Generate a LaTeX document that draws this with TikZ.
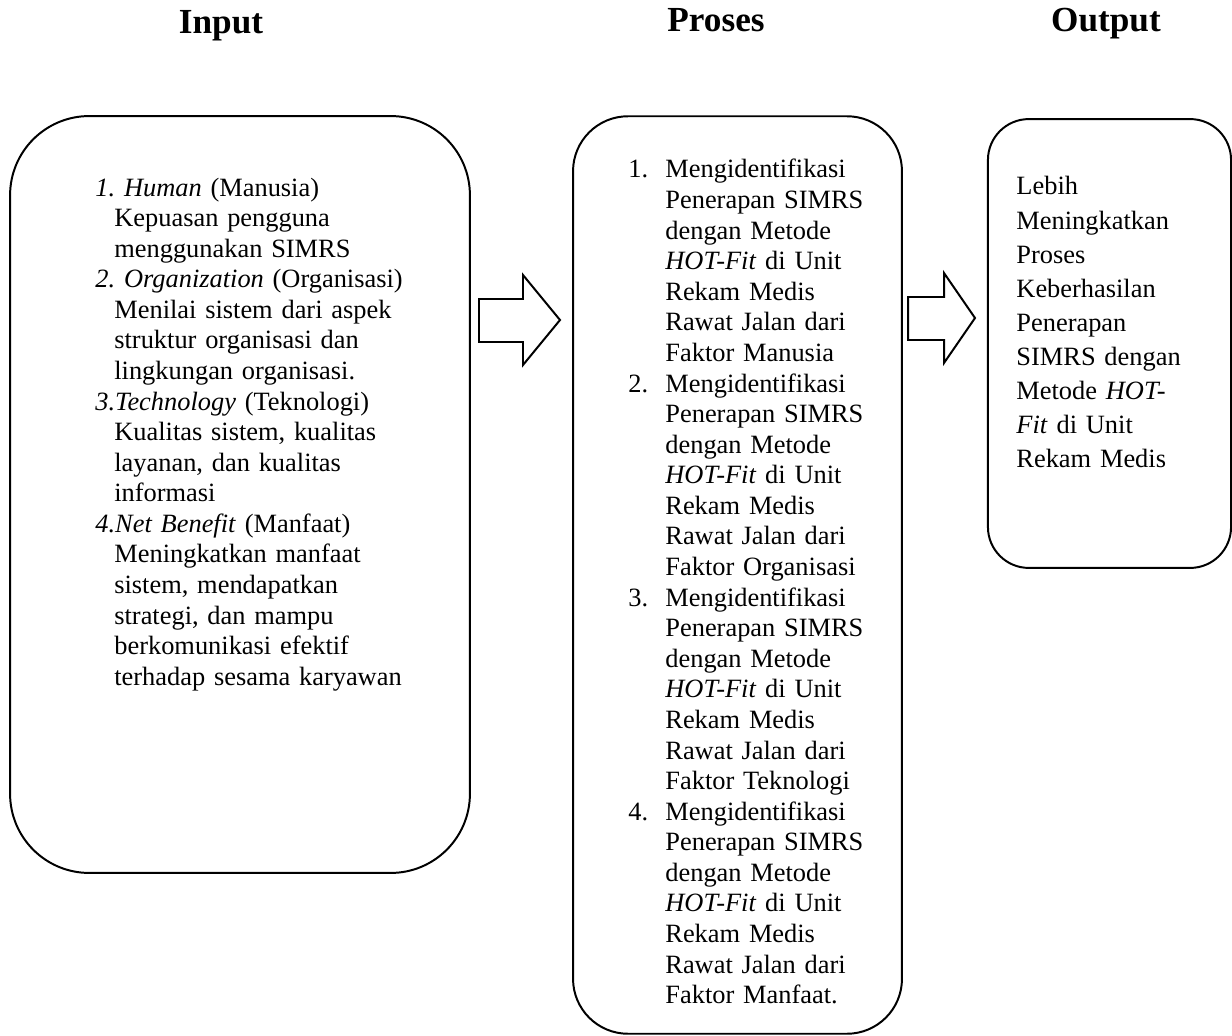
\documentclass[tikz,border=0pt]{standalone}
\usepackage{fontspec}
\setmainfont{Liberation Serif}
\frenchspacing
\usetikzlibrary{positioning}
\tikzstyle{box} = [draw, rectangle, line width=0.9pt, inner sep=0]
\tikzstyle{txt} = [anchor=base west, inner sep=0, align=left, font=\fontsize{12pt}{13.9pt}\selectfont]
\tikzstyle{head} = [anchor=base, inner sep=0, font=\fontsize{16pt}{19pt}\selectfont\bfseries]
\tikzstyle{blockarrow} = [draw, line width=0.9pt, line join=miter]
\newcommand{\ind}{\hspace*{8.6pt}}
\newcommand{\prositem}[2]{\makebox[16.8pt][l]{#1}Mengidentifikasi\\
  \hspace*{16.8pt}Penerapan SIMRS\\
  \hspace*{16.8pt}dengan Metode\\
  \hspace*{16.8pt}\textit{HOT-Fit} di Unit\\
  \hspace*{16.8pt}Rekam Medis\\
  \hspace*{16.8pt}Rawat Jalan dari\\
  \hspace*{16.8pt}Faktor #2}

\begin{document}
\begin{tikzpicture}[x=0.4545pt, y=-0.4545pt]
  \useasboundingbox (0,0) rectangle (1232,1036);

  % headers
  \node [head] (hinput) at (221,34) {Input};
  \node [head] (hproses) at (716,32) {Proses};
  \node [head] (houtput) at (1106,32) {Output};

  % boxes
  \node [box, rounded corners=36pt, minimum width=209pt, minimum height=344pt] (input) at (240,494.5) {};
  \node [box, rounded corners=25pt, minimum width=149.5pt, minimum height=417pt] (proses) at (737.5,575) {};
  \node [box, rounded corners=18.6pt, minimum width=110.5pt, minimum height=204pt] (output) at (1109.5,343.5) {};

  % texts
  \node [txt, text width=200pt] (tinput) at (95,196) {\textit{1. Human} (Manusia)\\
    \ind Kepuasan pengguna\\
    \ind menggunakan SIMRS\\
    \textit{2. Organization} (Organisasi)\\
    \ind Menilai sistem dari aspek\\
    \ind struktur organisasi dan\\
    \ind lingkungan organisasi.\\
    \textit{3.Technology} (Teknologi)\\
    \ind Kualitas sistem, kualitas\\
    \ind layanan, dan kualitas\\
    \ind informasi\\
    \textit{4.Net Benefit} (Manfaat)\\
    \ind Meningkatkan manfaat\\
    \ind sistem, mendapatkan\\
    \ind strategi, dan mampu\\
    \ind berkomunikasi efektif\\
    \ind terhadap sesama karyawan};
  \node [txt, text width=120pt] (tproses) at (628,178) {\prositem{1.}{Manusia}\\
    \prositem{2.}{Organisasi}\\
    \prositem{3.}{Teknologi}\\
    \prositem{4.}{Manfaat.}};
  \node [txt, text width=100pt, font=\fontsize{12pt}{15.5pt}\selectfont] (toutput) at (1016,195) {Lebih\\
    Meningkatkan\\
    Proses\\
    Keberhasilan\\
    Penerapan\\
    SIMRS dengan\\
    Metode \textit{HOT-}\\
    \textit{Fit} di Unit\\
    Rekam Medis};

  % block arrows
  \draw [blockarrow] (479,299) -- (523,299) -- (523,275) -- (560,320) -- (523,365) -- (523,342) -- (479,342) -- cycle;
  \draw [blockarrow] (908,297) -- (944,297) -- (944,273) -- (975,318) -- (944,363) -- (944,340) -- (908,340) -- cycle;
\end{tikzpicture}
\end{document}
